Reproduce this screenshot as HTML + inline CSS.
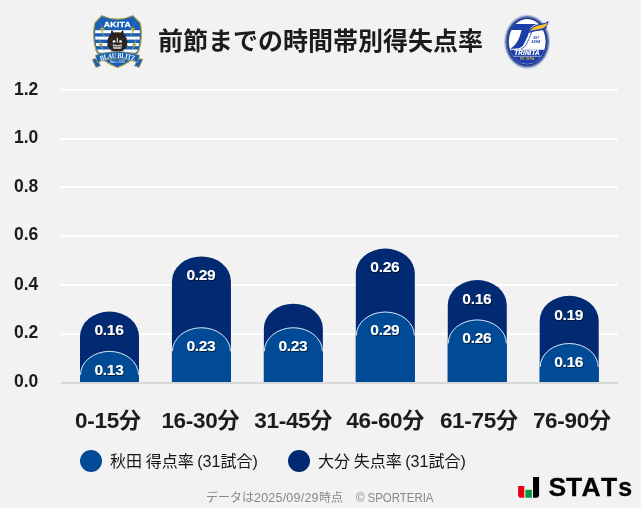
<!DOCTYPE html>
<html lang="ja">
<head>
<meta charset="utf-8">
<title>前節までの時間帯別得失点率</title>
<style>
html,body{margin:0;padding:0;background:#f2f2f2;}
body{width:641px;height:508px;overflow:hidden;position:relative;font-family:"Liberation Sans","Noto Sans CJK JP",sans-serif;}
svg{position:absolute;left:0;top:0;display:block;}
text{font-family:"Liberation Sans","Noto Sans CJK JP",sans-serif;}
.title{font-size:25px;font-weight:700;fill:#1c1c1c;}
.ytick{font-size:17.5px;font-weight:700;fill:#1c1c1c;}
.xtick{font-size:22px;letter-spacing:-0.25px;font-weight:700;fill:#1c1c1c;text-anchor:middle;}
.xtick .d{font-size:22.5px;letter-spacing:-0.3px;}
.val{font-size:15.5px;letter-spacing:-0.3px;font-weight:700;fill:#fff;text-anchor:middle;}
.leg{font-size:16px;word-spacing:-0.8px;fill:#141414;}
.foot{font-size:12px;fill:#888;}
</style>
</head>
<body>
<svg width="641" height="508" viewBox="0 0 641 508">
<defs>
<filter id="ts" x="-20%" y="-30%" width="140%" height="170%"><feDropShadow dx="0.7" dy="1" stdDeviation="0.7" flood-color="#000" flood-opacity="0.6"/></filter>
</defs>
<rect width="641" height="508" fill="#f2f2f2"/>
<g id="akita">
<defs>
<clipPath id="akclip"><path d="M102.800,17.200Q117.500,23.800 132.200,17.200L138.800,23.600Q141.700,37 137.600,50.300Q132.600,60 117.500,66Q102.400,60 97.400,50.300Q93.300,37 96.200,23.600Z"/></clipPath>
<path id="akarc" d="M94,61.600Q117.500,54.400 141,61.600"/>
</defs>
<path d="M101.500,14.900Q117.500,22 133.100,14.900L140.800,22.800Q143.900,37 139.500,51Q134,62 117.500,68.300Q101,62 95.500,51Q91.100,37 94.200,22.800Z" fill="#b3a24a"/>
<path d="M101.900,16.300Q117.500,23.300 132.700,16.300L139.600,23.200Q142.600,37 138.300,50.500Q133,61 117.500,67Q102,61 96.700,50.500Q92.400,37 95.400,23.200Z" fill="#1760b5"/>
<g clip-path="url(#akclip)">
<rect x="90" y="30.200" width="56" height="3" fill="#fff"/>
<rect x="90" y="36.600" width="56" height="3" fill="#fff"/>
<rect x="90" y="43.100" width="56" height="3" fill="#fff"/>
<rect x="90" y="49.500" width="56" height="3.200" fill="#fff"/>
</g>
<path d="M98.300,20.200L102.600,27.600L99.700,28.300L105.600,38.800L102.400,30.400L104.700,29.700Z" fill="#b3a24a"/>
<path d="M136.700,20.200L132.400,27.600L135.300,28.300L129.400,38.800L132.600,30.400L130.300,29.700Z" fill="#b3a24a"/>
<path d="M96.800,36.800L100.400,43.500L98.600,44.400L105.500,52.500L101.400,46.200L102.900,45.300Z" fill="#b3a24a"/>
<path d="M138.200,36.800L134.600,43.500L136.400,44.400L129.500,52.500L133.600,46.200L132.100,45.300Z" fill="#b3a24a"/>
<path d="M117.300,32.200Q120.500,32.100 122.600,33.600L123.300,32.800L124.300,34.900L125.700,35.400L125.500,36.900L127,38.500L126.500,39.800L127.700,42L126.900,43.600L127.500,45.400L126,46.700L125.800,48.400L124.100,49.200L123.200,50.700L121.400,50.900L120,52L117.300,51.700L114.600,52L113.200,50.900L111.400,50.700L110.500,49.200L108.800,48.400L108.600,46.700L107.100,45.400L107.700,43.600L106.900,42L108.100,39.800L107.600,38.500L109.100,36.900L108.900,35.400L110.300,34.900L111.300,32.800L112,33.600Q114.100,32.100 117.300,32.200Z" fill="#2a2220"/>
<path d="M110.700,35L111.300,30.600L112.300,30.500L114.300,33.600ZM123.900,35L123.300,30.600L122.300,30.500L120.300,33.600Z" fill="#2a2220"/>
<path d="M112.200,41.900L113.600,40.100L115.300,40.600L115.600,42.300L113.800,42.700ZM122.400,41.900L121,40.100L119.300,40.600L119,42.300L120.800,42.700ZM116.800,37.800h1v4.700h-1z" fill="#f0f0f0"/>
<path d="M112.700,44.200Q117.300,45.600 121.900,44.200L121.300,48.400Q117.300,49.800 113.300,48.400Z" fill="#ededed"/>
<path d="M114.300,44.800v3.600M115.800,45.100v3.900M117.300,45.200v4M118.800,45.100v3.900M120.300,44.800v3.600M112.900,46.500h8.800" stroke="#2a2220" stroke-width="0.450"/>
<path d="M110.300,38.200l2,1.200M124.300,38.200l-2,1.200M109.300,44.600l1.800,-0.500M125.300,44.600l-1.800,-0.500" stroke="#6b625f" stroke-width="0.500" fill="none"/>
<path d="M92.200,59.200L97.200,58.600L100.500,65.900L95.900,67.400Z" fill="#1760b5" stroke="#b3a24a" stroke-width="0.800"/>
<path d="M142.800,59.200L137.800,58.600L134.500,65.900L139.100,67.400Z" fill="#1760b5" stroke="#b3a24a" stroke-width="0.800"/>
<path d="M95.400,55.300Q117.500,47.600 139.600,55.300L137.800,62.300Q117.500,55.200 97.200,62.300Z" fill="#1760b5" stroke="#b3a24a" stroke-width="0.700"/>
<text transform="translate(117.400,27.400) scale(1.080,1)" text-anchor="middle" style="font-family:'Liberation Sans',sans-serif;font-size:8px;font-weight:700;letter-spacing:0.3px" fill="#fff" stroke="#fff" stroke-width="0.250">AKITA</text>
<text text-anchor="middle" transform="translate(117.500,0) scale(0.800,1) translate(-117.500,0)" style="font-family:'Liberation Serif',serif;font-size:7.400px;font-weight:700;letter-spacing:-0.200px" fill="#fff"><textPath href="#akarc" startOffset="50%">BLAU BLITZ</textPath></text>
<text x="117.300" y="62.600" text-anchor="middle" style="font-family:'Liberation Serif',serif;font-size:3.400px" fill="#fff">Since 2010</text>
</g>
<g id="oita">
<defs><clipPath id="oiclip"><ellipse cx="527.2" cy="41.700" rx="18.400" ry="22.600"/></clipPath></defs>
<ellipse cx="527.100" cy="41.700" rx="23" ry="27" fill="#b4c4f1"/>
<ellipse cx="527.100" cy="41.700" rx="21.600" ry="25.500" fill="#3652b0"/>
<ellipse cx="527.100" cy="41.700" rx="20.900" ry="24.800" fill="none" stroke="#8a8650" stroke-width="0.800"/>
<ellipse cx="527.100" cy="41.700" rx="20.200" ry="24.100" fill="#1d3ea6"/>
<ellipse cx="527.2" cy="41.700" rx="18.400" ry="22.600" fill="#fff"/>
<g clip-path="url(#oiclip)">
<rect x="505" y="49.800" width="45" height="17" fill="#1d3ea6"/>
<rect x="505" y="55.900" width="45" height="0.600" fill="#dfe6fa"/>
<path d="M511,60Q527.2,68.500 543.400,60" fill="none" stroke="#dfe6fa" stroke-width="0.500"/>
</g>
<path d="M511,29.900L513.600,25Q514.300,24 516,24L536.500,24Q531.800,25.500 530,29.700Q527.700,37 524.400,43Q522.500,47.300 518.800,48.300L510.300,48.900Q515.200,46 518,40.600Q520.200,35.600 521.600,29.900Z" fill="#1d3ea6"/>
<path d="M532,31Q529.500,39 526,45Q524,48 521,49" fill="none" stroke="#1d3ea6" stroke-width="0.800"/>
<path d="M529.200,31.800Q532,25.200 539.300,24.100Q545,23.500 548.600,21Q548.600,24.600 546,26.800Q546.800,26.900 547.400,26.600Q545.400,30 541,30.600Q535,30.800 529.200,32.900Z" fill="#1d3ea6"/>
<path d="M530.300,31.300Q533,26.100 539.600,25.200Q544.600,24.700 547.500,22.500Q547.200,25.600 544.200,27.500Q541.500,29.200 537,29.500Q533.500,29.800 530.300,31.300Z" fill="#f7c42a"/>
<text x="536.200" y="38.900" text-anchor="middle" style="font-family:'Liberation Sans',sans-serif;font-size:2.900px;font-weight:700;font-style:italic" fill="#1d3ea6">EST</text>
<text x="535.600" y="42.700" text-anchor="middle" style="font-family:'Liberation Sans',sans-serif;font-size:4px;font-weight:700;font-style:italic" fill="#1d3ea6">1994</text>
<text x="527" y="55.300" text-anchor="middle" style="font-family:'Liberation Sans',sans-serif;font-size:6.400px;font-weight:700;font-style:italic;letter-spacing:0.1px" fill="#fff" stroke="#fff" stroke-width="0.200">TRINITA</text>
<text x="527.2" y="60.300" text-anchor="middle" style="font-family:'Liberation Sans',sans-serif;font-size:3.100px;font-weight:700;letter-spacing:0.25px" fill="#f7c42a">FC OITA</text>
</g>
<g id="stats">
<path d="M518.100,486.100h6.200v11.600h-4.600l-1.600,-1.600z" fill="#e60012"/>
<rect x="525.400" y="489.800" width="6.500" height="7.900" fill="#009944"/>
<path d="M533,477.100h6.100v18.800l-1.800,1.800h-4.300z" fill="#000"/>
<text x="548.500 566.100 581.500 601 618.200" y="496.400" style="font-family:'Liberation Sans',sans-serif;font-weight:700;font-size:26.500px" fill="#050505" stroke="#050505" stroke-width="0.300">STAT<tspan style="font-size:25px">s</tspan></text>
</g>
<text class="title" x="158" y="50.2">前節までの時間帯別得失点率</text>
<g fill="#fff">
<rect x="61" y="89" width="557" height="2"/>
<rect x="61" y="138" width="557" height="2"/>
<rect x="61" y="186" width="557" height="2"/>
<rect x="61" y="235" width="557" height="2"/>
<rect x="61" y="284" width="557" height="2"/>
<rect x="61" y="333" width="557" height="2"/>
</g>
<g class="ytick">
<text x="14" y="95">1.2</text>
<text x="14" y="143">1.0</text>
<text x="14" y="192">0.8</text>
<text x="14" y="240.4">0.6</text>
<text x="14" y="289.6">0.4</text>
<text x="14" y="338.4">0.2</text>
<text x="14" y="387">0.0</text>
</g>
<g id="bars">
<path d="M80.00,382.50V336.51A29.50,25.00 0 0 1 139.00,336.51V382.50Z" fill="#012a73"/>
<path d="M80.00,382.50V374.89A29.50,24.00 0 0 1 139.00,374.89V382.50Z" fill="#014b96"/><path d="M80.50,374.89A29.00,23.50 0 0 1 138.50,374.89" fill="none" stroke="rgba(255,255,255,0.85)" stroke-width="1"/>
<path d="M171.94,382.50V281.38A29.50,25.00 0 0 1 230.94,281.38V382.50Z" fill="#012a73"/>
<path d="M171.94,382.50V351.26A29.50,24.00 0 0 1 230.94,351.26V382.50Z" fill="#014b96"/><path d="M172.44,351.26A29.00,23.50 0 0 1 230.44,351.26" fill="none" stroke="rgba(255,255,255,0.85)" stroke-width="1"/>
<path d="M263.88,382.50V328.64A29.50,25.00 0 0 1 322.88,328.64V382.50Z" fill="#012a73"/>
<path d="M263.88,382.50V351.26A29.50,24.00 0 0 1 322.88,351.26V382.50Z" fill="#014b96"/><path d="M264.38,351.26A29.00,23.50 0 0 1 322.38,351.26" fill="none" stroke="rgba(255,255,255,0.85)" stroke-width="1"/>
<path d="M355.82,382.50V273.50A29.50,25.00 0 0 1 414.82,273.50V382.50Z" fill="#012a73"/>
<path d="M355.82,382.50V335.51A29.50,24.00 0 0 1 414.82,335.51V382.50Z" fill="#014b96"/><path d="M356.32,335.51A29.00,23.50 0 0 1 414.32,335.51" fill="none" stroke="rgba(255,255,255,0.85)" stroke-width="1"/>
<path d="M447.76,382.50V305.01A29.50,25.00 0 0 1 506.76,305.01V382.50Z" fill="#012a73"/>
<path d="M447.76,382.50V343.39A29.50,24.00 0 0 1 506.76,343.39V382.50Z" fill="#014b96"/><path d="M448.26,343.39A29.00,23.50 0 0 1 506.26,343.39" fill="none" stroke="rgba(255,255,255,0.85)" stroke-width="1"/>
<path d="M539.70,382.50V320.76A29.50,25.00 0 0 1 598.70,320.76V382.50Z" fill="#012a73"/>
<path d="M539.70,382.50V367.02A29.50,24.00 0 0 1 598.70,367.02V382.50Z" fill="#014b96"/><path d="M540.20,367.02A29.00,23.50 0 0 1 598.20,367.02" fill="none" stroke="rgba(255,255,255,0.85)" stroke-width="1"/>
</g>
<rect x="61" y="382" width="557" height="2" fill="#d8d8d8"/>
<g class="val" filter="url(#ts)">
<text x="109.0" y="374.7">0.13</text>
<text x="109.0" y="335.3">0.16</text>
<text x="200.9" y="351.1">0.23</text>
<text x="200.9" y="280.2">0.29</text>
<text x="292.9" y="351.1">0.23</text>
<text x="384.8" y="335.3">0.29</text>
<text x="384.8" y="272.3">0.26</text>
<text x="476.8" y="343.2">0.26</text>
<text x="476.8" y="303.8">0.16</text>
<text x="568.7" y="366.8">0.16</text>
<text x="568.7" y="319.6">0.19</text>
</g>
<g class="xtick">
<text x="107.9" y="428"><tspan class="d">0-15</tspan>分</text>
<text x="200.3" y="428"><tspan class="d">16-30</tspan>分</text>
<text x="293.2" y="428"><tspan class="d">31-45</tspan>分</text>
<text x="385.2" y="428"><tspan class="d">46-60</tspan>分</text>
<text x="478.8" y="428"><tspan class="d">61-75</tspan>分</text>
<text x="571.8" y="428"><tspan class="d">76-90</tspan>分</text>
</g>
<circle cx="91" cy="461" r="11" fill="#014b96"/>
<text class="leg" x="110" y="466.5">秋田 得点率 (31試合)</text>
<circle cx="299" cy="461" r="11" fill="#012a73"/>
<text class="leg" x="318" y="466.5">大分 失点率 (31試合)</text>
<text class="foot" x="206" y="501.5">データは<tspan style="font-size:12.5px" textLength="64.5" lengthAdjust="spacing">2025/09/29</tspan><tspan x="319">時点</tspan><tspan x="343.5">　</tspan><tspan x="356" textLength="77.5" lengthAdjust="spacingAndGlyphs">© SPORTERIA</tspan></text>
</svg>
</body>
</html>
